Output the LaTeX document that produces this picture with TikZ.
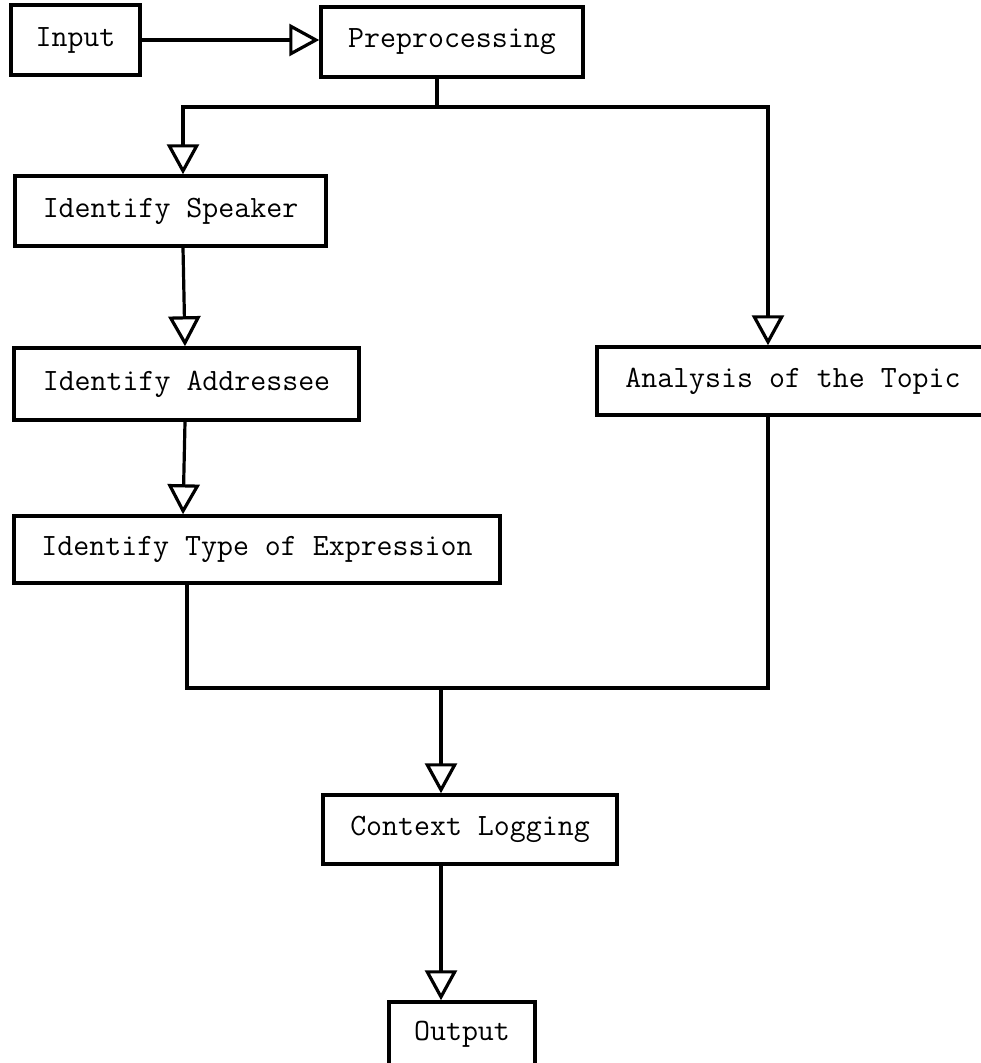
\documentclass[tikz,border=0pt]{standalone}
\usepackage{tikz}
\usetikzlibrary{arrows.meta}
\tikzset{
  blk/.style={draw,line width=3.5pt,inner sep=0pt,font=\ttfamily\fontsize{31}{36}\selectfont},
  ln/.style={line width=3.2pt},
  ar/.style={ln,-{Triangle[open,length=30pt,width=32pt]}}
}
\begin{document}
\begin{tikzpicture}[x=1pt,y=-1pt]
\useasboundingbox (0,0) rectangle (981,1063);
\node[blk,minimum width=129pt,minimum height=70pt] (inp) at (75.5,40) {Input};
\node[blk,minimum width=262pt,minimum height=70pt] (pre) at (452,42) {Preprocessing};
\node[blk,minimum width=311pt,minimum height=70pt] (spk) at (170.5,211) {Identify Speaker};
\node[blk,minimum width=345pt,minimum height=72pt] (adr) at (186.5,384) {Identify Addressee};
\node[blk,minimum width=486pt,minimum height=67pt] (typ) at (257,549.5) {Identify Type of Expression};
\node[blk,minimum width=392pt,minimum height=68pt] (tpc) at (793,381) {Analysis of the Topic};
\node[blk,minimum width=294pt,minimum height=69pt] (ctx) at (470,829.5) {Context Logging};
\node[blk,minimum width=146pt,minimum height=65pt] (out) at (462,1034.5) {Output};
% split and merge points
\coordinate (j1) at (437,107);
\coordinate (j2) at (441,688);
\draw[ar] (inp.east) -- (pre.west |- inp.east);
\draw[ln] ([xshift=-15pt]pre.south) -- (j1);
\draw[ar] (j1) -| ([xshift=12.5pt]spk.north);
\draw[ar] (j1) -| ([xshift=-25pt]tpc.north);
\draw[ar] ([xshift=12.5pt]spk.south) -- ([xshift=-1.5pt]adr.north);
\draw[ar] ([xshift=-1.5pt]adr.south) -- ([xshift=-74pt]typ.north);
\draw[ln] ([xshift=-70pt]typ.south) |- (j2);
\draw[ln] ([xshift=-25pt]tpc.south) |- (j2);
\draw[ar] (j2) -- ([xshift=-29pt]ctx.north);
\draw[ar] ([xshift=-29pt]ctx.south) -- ([xshift=-21pt]out.north);
\end{tikzpicture}
\end{document}
